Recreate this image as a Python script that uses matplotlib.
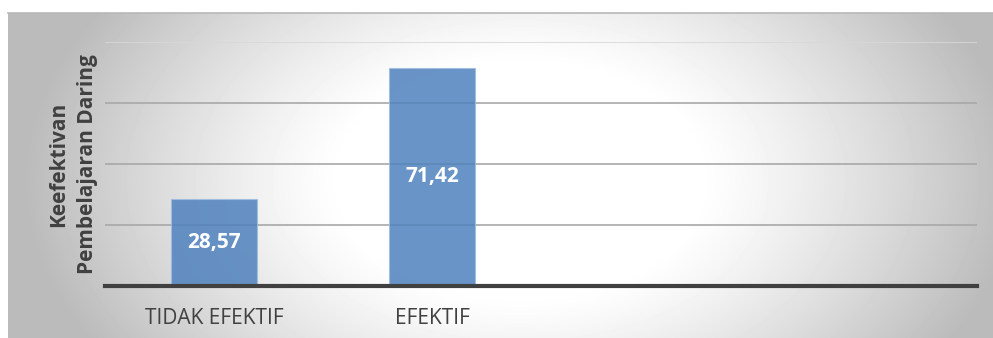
import numpy as np
import matplotlib
matplotlib.use("Agg")
import matplotlib.pyplot as plt
from matplotlib.lines import Line2D

# data
categories = ["TIDAK EFEKTIF", "EFEKTIF"]
values = [28.57, 71.42]
value_labels = ["28,57", "71,42"]
n_slots = 4          # chart keeps room for four categories
y_max = 80
grid_steps = [20, 40, 60, 80]
y_title = "Keefektivan\nPembelajaran Daring"

W, H = 993, 338
plt.rcParams["font.family"] = ["Open Sans", "DejaVu Sans"]

fig = plt.figure(figsize=(W / 100, H / 100), dpi=100)
fig.patch.set_facecolor("white")

# radial grey-to-white background of the chart frame
x0, y0 = 8, 13
bg = fig.add_axes([x0 / W, 0, (W - x0) / W, (H - y0) / H])
xx, yy = np.meshgrid(np.arange(x0, W), np.arange(y0, H))
r = np.sqrt(((xx - 520) / 510) ** 2 + ((yy - 180) / 330) ** 2)
shade = 255 - 68 * np.clip((r - 0.35) / 0.62, 0, 1) ** 1.2
bg.imshow(shade, cmap="gray", vmin=0, vmax=255, aspect="auto",
          extent=[x0, W, H, y0], interpolation="bilinear")
bg.set_xlim(x0, W)
bg.set_ylim(H, y0)
bg.axis("off")
fig.add_artist(Line2D([x0 / W, 1], [1 - y0 / H, 1 - y0 / H],
                      transform=fig.transFigure, color="#b8b8b8", lw=1.2))

# plot area
left, right, top, base = 105, 977, 42, 285.5
ax = fig.add_axes([left / W, (H - base) / H, (right - left) / W, (base - top) / H])
ax.patch.set_alpha(0)
ax.set_xlim(-0.5, n_slots - 0.5)
ax.set_ylim(0, y_max)

for g in grid_steps:
    ax.axhline(g, color="#d8d8d8" if g == y_max else "#a8a8a8", lw=1.2, zorder=1)

x = np.arange(len(categories))
bars = ax.bar(x, values, width=0.395, color="#4F81BD", alpha=0.85,
              edgecolor="#9fbce0", linewidth=0.8, zorder=2)

for b, lab in zip(bars, value_labels):
    ax.text(b.get_x() + b.get_width() / 2, b.get_height() / 2, lab,
            ha="center", va="center", color="white", fontsize=15,
            fontweight="bold", zorder=3)

ax.axhline(0, color="#404040", lw=3, zorder=4, clip_on=False)

ax.set_xticks(x)
ax.set_xticklabels(categories, fontsize=15, color="#404040")
ax.tick_params(axis="x", length=0, pad=16)
ax.set_yticks([])
for s in ax.spines.values():
    s.set_visible(False)

fig.text(73 / W, 1 - 164 / H, y_title, rotation=90, ha="center", va="center",
         fontsize=15, fontweight="bold", color="#404040", linespacing=1.45)

fig.savefig("out.png", dpi=100)
